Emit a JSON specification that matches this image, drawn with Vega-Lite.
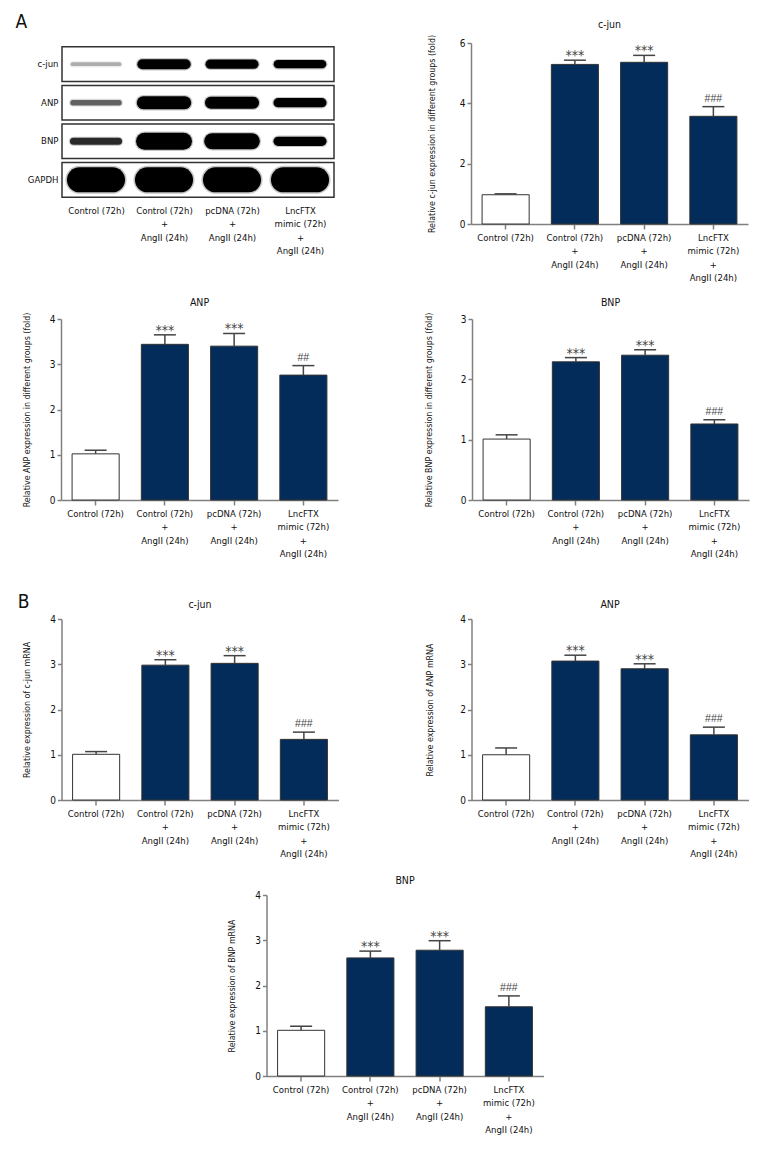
{
  "$schema": "https://vega.github.io/schema/vega-lite/v6.json",
  "background": "white",
  "padding": {"left": 15, "top": 13, "right": 5, "bottom": 5},
  "datasets": {
    "blot": [
      {"protein": "c-jun", "lane": "Control (72h)", "signal": 0.15},
      {"protein": "c-jun", "lane": "Control (72h)|+|AngII (24h)", "signal": 0.40},
      {"protein": "c-jun", "lane": "pcDNA (72h)|+|AngII (24h)", "signal": 0.37},
      {"protein": "c-jun", "lane": "LncFTX|mimic (72h)|+|AngII (24h)", "signal": 0.33},
      {"protein": "ANP", "lane": "Control (72h)", "signal": 0.22},
      {"protein": "ANP", "lane": "Control (72h)|+|AngII (24h)", "signal": 0.52},
      {"protein": "ANP", "lane": "pcDNA (72h)|+|AngII (24h)", "signal": 0.48},
      {"protein": "ANP", "lane": "LncFTX|mimic (72h)|+|AngII (24h)", "signal": 0.37},
      {"protein": "BNP", "lane": "Control (72h)", "signal": 0.28},
      {"protein": "BNP", "lane": "Control (72h)|+|AngII (24h)", "signal": 0.68},
      {"protein": "BNP", "lane": "pcDNA (72h)|+|AngII (24h)", "signal": 0.64},
      {"protein": "BNP", "lane": "LncFTX|mimic (72h)|+|AngII (24h)", "signal": 0.37},
      {"protein": "GAPDH", "lane": "Control (72h)", "signal": 1.0},
      {"protein": "GAPDH", "lane": "Control (72h)|+|AngII (24h)", "signal": 1.0},
      {"protein": "GAPDH", "lane": "pcDNA (72h)|+|AngII (24h)", "signal": 1.0},
      {"protein": "GAPDH", "lane": "LncFTX|mimic (72h)|+|AngII (24h)", "signal": 1.0}
    ],
    "bars": [
      {"panel": "A c-jun", "group": "Control (72h)", "mean": 0.97, "hi": 1.00, "sig": ""},
      {"panel": "A c-jun", "group": "Control (72h)|+|AngII (24h)", "mean": 5.29, "hi": 5.43, "sig": "***"},
      {"panel": "A c-jun", "group": "pcDNA (72h)|+|AngII (24h)", "mean": 5.36, "hi": 5.59, "sig": "***"},
      {"panel": "A c-jun", "group": "LncFTX|mimic (72h)|+|AngII (24h)", "mean": 3.57, "hi": 3.89, "sig": "###"},
      {"panel": "A ANP", "group": "Control (72h)", "mean": 1.02, "hi": 1.10, "sig": ""},
      {"panel": "A ANP", "group": "Control (72h)|+|AngII (24h)", "mean": 3.44, "hi": 3.65, "sig": "***"},
      {"panel": "A ANP", "group": "pcDNA (72h)|+|AngII (24h)", "mean": 3.40, "hi": 3.68, "sig": "***"},
      {"panel": "A ANP", "group": "LncFTX|mimic (72h)|+|AngII (24h)", "mean": 2.76, "hi": 2.97, "sig": "##"},
      {"panel": "A BNP", "group": "Control (72h)", "mean": 1.01, "hi": 1.08, "sig": ""},
      {"panel": "A BNP", "group": "Control (72h)|+|AngII (24h)", "mean": 2.29, "hi": 2.36, "sig": "***"},
      {"panel": "A BNP", "group": "pcDNA (72h)|+|AngII (24h)", "mean": 2.40, "hi": 2.49, "sig": "***"},
      {"panel": "A BNP", "group": "LncFTX|mimic (72h)|+|AngII (24h)", "mean": 1.26, "hi": 1.33, "sig": "###"},
      {"panel": "B c-jun", "group": "Control (72h)", "mean": 1.01, "hi": 1.07, "sig": ""},
      {"panel": "B c-jun", "group": "Control (72h)|+|AngII (24h)", "mean": 2.98, "hi": 3.10, "sig": "***"},
      {"panel": "B c-jun", "group": "pcDNA (72h)|+|AngII (24h)", "mean": 3.02, "hi": 3.19, "sig": "***"},
      {"panel": "B c-jun", "group": "LncFTX|mimic (72h)|+|AngII (24h)", "mean": 1.34, "hi": 1.50, "sig": "###"},
      {"panel": "B ANP", "group": "Control (72h)", "mean": 1.00, "hi": 1.15, "sig": ""},
      {"panel": "B ANP", "group": "Control (72h)|+|AngII (24h)", "mean": 3.07, "hi": 3.20, "sig": "***"},
      {"panel": "B ANP", "group": "pcDNA (72h)|+|AngII (24h)", "mean": 2.90, "hi": 3.01, "sig": "***"},
      {"panel": "B ANP", "group": "LncFTX|mimic (72h)|+|AngII (24h)", "mean": 1.44, "hi": 1.61, "sig": "###"},
      {"panel": "B BNP", "group": "Control (72h)", "mean": 1.01, "hi": 1.10, "sig": ""},
      {"panel": "B BNP", "group": "Control (72h)|+|AngII (24h)", "mean": 2.61, "hi": 2.76, "sig": "***"},
      {"panel": "B BNP", "group": "pcDNA (72h)|+|AngII (24h)", "mean": 2.78, "hi": 2.99, "sig": "***"},
      {"panel": "B BNP", "group": "LncFTX|mimic (72h)|+|AngII (24h)", "mean": 1.53, "hi": 1.77, "sig": "###"}
    ]
  },
  "config": {
    "font": "DejaVu Sans Condensed, DejaVu Sans, sans-serif",
    "view": {"stroke": null},
    "axis": {"domainColor": "#808080", "domainWidth": 1.5, "tickColor": "#808080", "tickWidth": 1.5, "tickSize": 4, "labelColor": "#111111", "labelFontSize": 10, "titleFontSize": 8.8, "titleFontWeight": "normal", "titleColor": "#111111", "grid": false, "labelPadding": 2},
    "axisX": {"labelAngle": 0, "labelLineHeight": 13.5, "labelPadding": 3, "tickSize": 5, "labelBaseline": "top", "labelFontSize": 9.5},
    "title": {"fontSize": 10.5, "fontWeight": "normal", "color": "#111111", "frame": "group", "offset": 4}
  },
  "center": true,
  "spacing": 34,
  "vconcat": [
    {
      "center": true,
      "spacing": 15,
      "vconcat": [
        {
          "bounds": "flush",
          "spacing": 137,
          "hconcat": [
            {
              "title": {"text": "A", "anchor": "start", "frame": "bounds", "fontSize": 19, "offset": 7, "dx": -8},
              "width": 272,
              "height": 158,
              "data": {"name": "blot"},
              "encoding": {
                "y": {"field": "protein", "type": "nominal", "sort": ["c-jun", "ANP", "BNP", "GAPDH"], "scale": {"paddingInner": 0.1, "paddingOuter": 0.1}, "axis": {"title": null, "domain": false, "ticks": false, "labelPadding": 4, "labelFontSize": 9.5}}
              },
              "layer": [
                {
                  "transform": [{"filter": "datum.lane === 'Control (72h)'"}],
                  "mark": {"type": "rect", "fill": "#ffffff", "stroke": "#333333", "strokeWidth": 1.5}
                },
                {
                  "mark": {"type": "point", "shape": "stroke", "filled": false, "opacity": 0.22, "strokeCap": "round"},
                  "encoding": {
                    "x": {"field": "lane", "type": "nominal", "sort": ["Control (72h)", "Control (72h)|+|AngII (24h)", "pcDNA (72h)|+|AngII (24h)", "LncFTX|mimic (72h)|+|AngII (24h)"], "scale": {"paddingInner": 0, "paddingOuter": 0}, "axis": {"title": null, "domain": false, "ticks": false, "labelPadding": 4, "labelExpr": "split(datum.label, '|')"}},
                    "color": {"field": "signal", "type": "quantitative", "scale": {"domain": [0.1, 0.32], "range": ["#e6e6e6", "#000000"], "clamp": true}, "legend": null},
                    "size": {"field": "signal", "type": "quantitative", "scale": {"domain": [0, 1], "range": [2400, 1100]}, "legend": null},
                    "strokeWidth": {"field": "signal", "type": "quantitative", "scale": {"domain": [0, 1], "range": [2, 28]}, "legend": null}
                  }
                },
                {
                  "mark": {"type": "point", "shape": "stroke", "filled": false, "opacity": 1, "strokeCap": "round"},
                  "encoding": {
                    "x": {"field": "lane", "type": "nominal", "sort": ["Control (72h)", "Control (72h)|+|AngII (24h)", "pcDNA (72h)|+|AngII (24h)", "LncFTX|mimic (72h)|+|AngII (24h)"], "scale": {"paddingInner": 0, "paddingOuter": 0}, "axis": {"title": null, "domain": false, "ticks": false, "labelPadding": 4, "labelExpr": "split(datum.label, '|')"}},
                    "color": {"field": "signal", "type": "quantitative", "scale": {"domain": [0.1, 0.32], "range": ["#e6e6e6", "#000000"], "clamp": true}, "legend": null},
                    "size": {"field": "signal", "type": "quantitative", "scale": {"domain": [0, 1], "range": [2400, 1100]}, "legend": null},
                    "strokeWidth": {"field": "signal", "type": "quantitative", "scale": {"domain": [0, 1], "range": [0, 25]}, "legend": null}
                  }
                }
              ],
              "resolve": {"scale": {"strokeWidth": "independent"}}
            },
            {
              "title": "c-jun",
              "width": 277,
              "height": 181,
              "data": {"name": "bars"},
              "transform": [{"filter": "datum.panel === 'A c-jun'"}],
              "encoding": {
                "x": {"field": "group", "type": "nominal", "sort": null, "scale": {"paddingInner": 0.32, "paddingOuter": 0.16}, "axis": {"title": null, "labelExpr": "split(datum.label, '|')"}}
              },
              "layer": [
                {"mark": {"type": "bar", "stroke": "#333333", "strokeWidth": 1}, "encoding": {"y": {"field": "mean", "type": "quantitative", "scale": {"domain": [0, 6], "nice": false}, "axis": {"values": [0, 2, 4, 6], "format": "d", "title": "Relative c-jun expression in different groups (fold)", "titlePadding": 23}}, "fill": {"field": "group", "type": "nominal", "sort": null, "scale": {"range": ["#ffffff", "#042c5a", "#042c5a", "#042c5a"]}, "legend": null}}},
                {"mark": {"type": "rule", "color": "#444444", "strokeWidth": 1.5}, "encoding": {"y": {"field": "mean", "type": "quantitative"}, "y2": {"field": "hi"}}},
                {"mark": {"type": "tick", "color": "#444444", "thickness": 1.5, "size": 22, "opacity": 1}, "encoding": {"y": {"field": "hi", "type": "quantitative"}}},
                {"transform": [{"filter": "datum.sig === '***'"}], "mark": {"type": "text", "color": "#444444", "font": "DejaVu Sans Condensed", "fontSize": 14, "baseline": "alphabetic", "dy": 0}, "encoding": {"y": {"field": "hi", "type": "quantitative"}, "text": {"field": "sig"}}},
                {"transform": [{"filter": "datum.sig !== '***'"}], "mark": {"type": "text", "color": "#444444", "font": "Liberation Sans", "fontSize": 10.5, "baseline": "alphabetic", "dy": -5}, "encoding": {"y": {"field": "hi", "type": "quantitative"}, "text": {"field": "sig"}}}
              ]
            }
          ]
        },
        {
          "bounds": "flush",
          "spacing": 134,
          "hconcat": [
            {
              "title": "ANP",
              "width": 277,
              "height": 181,
              "data": {"name": "bars"},
              "transform": [{"filter": "datum.panel === 'A ANP'"}],
              "encoding": {
                "x": {"field": "group", "type": "nominal", "sort": null, "scale": {"paddingInner": 0.32, "paddingOuter": 0.16}, "axis": {"title": null, "labelExpr": "split(datum.label, '|')"}}
              },
              "layer": [
                {"mark": {"type": "bar", "stroke": "#333333", "strokeWidth": 1}, "encoding": {"y": {"field": "mean", "type": "quantitative", "scale": {"domain": [0, 4], "nice": false}, "axis": {"values": [0, 1, 2, 3, 4], "format": "d", "title": "Relative ANP expression in different groups (fold)", "titlePadding": 18}}, "fill": {"field": "group", "type": "nominal", "sort": null, "scale": {"range": ["#ffffff", "#042c5a", "#042c5a", "#042c5a"]}, "legend": null}}},
                {"mark": {"type": "rule", "color": "#444444", "strokeWidth": 1.5}, "encoding": {"y": {"field": "mean", "type": "quantitative"}, "y2": {"field": "hi"}}},
                {"mark": {"type": "tick", "color": "#444444", "thickness": 1.5, "size": 22, "opacity": 1}, "encoding": {"y": {"field": "hi", "type": "quantitative"}}},
                {"transform": [{"filter": "datum.sig === '***'"}], "mark": {"type": "text", "color": "#444444", "font": "DejaVu Sans Condensed", "fontSize": 14, "baseline": "alphabetic", "dy": 0}, "encoding": {"y": {"field": "hi", "type": "quantitative"}, "text": {"field": "sig"}}},
                {"transform": [{"filter": "datum.sig !== '***'"}], "mark": {"type": "text", "color": "#444444", "font": "Liberation Sans", "fontSize": 10.5, "baseline": "alphabetic", "dy": -5}, "encoding": {"y": {"field": "hi", "type": "quantitative"}, "text": {"field": "sig"}}}
              ]
            },
            {
              "title": "BNP",
              "width": 277,
              "height": 181,
              "data": {"name": "bars"},
              "transform": [{"filter": "datum.panel === 'A BNP'"}],
              "encoding": {
                "x": {"field": "group", "type": "nominal", "sort": null, "scale": {"paddingInner": 0.32, "paddingOuter": 0.16}, "axis": {"title": null, "labelExpr": "split(datum.label, '|')"}}
              },
              "layer": [
                {"mark": {"type": "bar", "stroke": "#333333", "strokeWidth": 1}, "encoding": {"y": {"field": "mean", "type": "quantitative", "scale": {"domain": [0, 3], "nice": false}, "axis": {"values": [0, 1, 2, 3], "format": "d", "title": "Relative BNP expression in different groups (fold)", "titlePadding": 27}}, "fill": {"field": "group", "type": "nominal", "sort": null, "scale": {"range": ["#ffffff", "#042c5a", "#042c5a", "#042c5a"]}, "legend": null}}},
                {"mark": {"type": "rule", "color": "#444444", "strokeWidth": 1.5}, "encoding": {"y": {"field": "mean", "type": "quantitative"}, "y2": {"field": "hi"}}},
                {"mark": {"type": "tick", "color": "#444444", "thickness": 1.5, "size": 22, "opacity": 1}, "encoding": {"y": {"field": "hi", "type": "quantitative"}}},
                {"transform": [{"filter": "datum.sig === '***'"}], "mark": {"type": "text", "color": "#444444", "font": "DejaVu Sans Condensed", "fontSize": 14, "baseline": "alphabetic", "dy": 0}, "encoding": {"y": {"field": "hi", "type": "quantitative"}, "text": {"field": "sig"}}},
                {"transform": [{"filter": "datum.sig !== '***'"}], "mark": {"type": "text", "color": "#444444", "font": "Liberation Sans", "fontSize": 10.5, "baseline": "alphabetic", "dy": -5}, "encoding": {"y": {"field": "hi", "type": "quantitative"}, "text": {"field": "sig"}}}
              ]
            }
          ]
        }
      ]
    },
    {
      "center": true,
      "spacing": 17,
      "vconcat": [
        {
          "title": {"text": "B", "anchor": "start", "frame": "bounds", "fontSize": 19, "offset": -12, "dx": -5},
          "bounds": "flush",
          "spacing": 133,
          "hconcat": [
            {
              "title": "c-jun",
              "width": 277,
              "height": 181,
              "data": {"name": "bars"},
              "transform": [{"filter": "datum.panel === 'B c-jun'"}],
              "encoding": {
                "x": {"field": "group", "type": "nominal", "sort": null, "scale": {"paddingInner": 0.32, "paddingOuter": 0.16}, "axis": {"title": null, "labelExpr": "split(datum.label, '|')"}}
              },
              "layer": [
                {"mark": {"type": "bar", "stroke": "#333333", "strokeWidth": 1}, "encoding": {"y": {"field": "mean", "type": "quantitative", "scale": {"domain": [0, 4], "nice": false}, "axis": {"values": [0, 1, 2, 3, 4], "format": "d", "title": "Relative expression of c-jun mRNA", "titlePadding": 18}}, "fill": {"field": "group", "type": "nominal", "sort": null, "scale": {"range": ["#ffffff", "#042c5a", "#042c5a", "#042c5a"]}, "legend": null}}},
                {"mark": {"type": "rule", "color": "#444444", "strokeWidth": 1.5}, "encoding": {"y": {"field": "mean", "type": "quantitative"}, "y2": {"field": "hi"}}},
                {"mark": {"type": "tick", "color": "#444444", "thickness": 1.5, "size": 22, "opacity": 1}, "encoding": {"y": {"field": "hi", "type": "quantitative"}}},
                {"transform": [{"filter": "datum.sig === '***'"}], "mark": {"type": "text", "color": "#444444", "font": "DejaVu Sans Condensed", "fontSize": 14, "baseline": "alphabetic", "dy": 0}, "encoding": {"y": {"field": "hi", "type": "quantitative"}, "text": {"field": "sig"}}},
                {"transform": [{"filter": "datum.sig !== '***'"}], "mark": {"type": "text", "color": "#444444", "font": "Liberation Sans", "fontSize": 10.5, "baseline": "alphabetic", "dy": -5}, "encoding": {"y": {"field": "hi", "type": "quantitative"}, "text": {"field": "sig"}}}
              ]
            },
            {
              "title": "ANP",
              "width": 277,
              "height": 181,
              "data": {"name": "bars"},
              "transform": [{"filter": "datum.panel === 'B ANP'"}],
              "encoding": {
                "x": {"field": "group", "type": "nominal", "sort": null, "scale": {"paddingInner": 0.32, "paddingOuter": 0.16}, "axis": {"title": null, "labelExpr": "split(datum.label, '|')"}}
              },
              "layer": [
                {"mark": {"type": "bar", "stroke": "#333333", "strokeWidth": 1}, "encoding": {"y": {"field": "mean", "type": "quantitative", "scale": {"domain": [0, 4], "nice": false}, "axis": {"values": [0, 1, 2, 3, 4], "format": "d", "title": "Relative expression of ANP mRNA", "titlePadding": 25}}, "fill": {"field": "group", "type": "nominal", "sort": null, "scale": {"range": ["#ffffff", "#042c5a", "#042c5a", "#042c5a"]}, "legend": null}}},
                {"mark": {"type": "rule", "color": "#444444", "strokeWidth": 1.5}, "encoding": {"y": {"field": "mean", "type": "quantitative"}, "y2": {"field": "hi"}}},
                {"mark": {"type": "tick", "color": "#444444", "thickness": 1.5, "size": 22, "opacity": 1}, "encoding": {"y": {"field": "hi", "type": "quantitative"}}},
                {"transform": [{"filter": "datum.sig === '***'"}], "mark": {"type": "text", "color": "#444444", "font": "DejaVu Sans Condensed", "fontSize": 14, "baseline": "alphabetic", "dy": 0}, "encoding": {"y": {"field": "hi", "type": "quantitative"}, "text": {"field": "sig"}}},
                {"transform": [{"filter": "datum.sig !== '***'"}], "mark": {"type": "text", "color": "#444444", "font": "Liberation Sans", "fontSize": 10.5, "baseline": "alphabetic", "dy": -5}, "encoding": {"y": {"field": "hi", "type": "quantitative"}, "text": {"field": "sig"}}}
              ]
            }
          ]
        },
        {
          "title": "BNP",
          "width": 277,
          "height": 181,
          "data": {"name": "bars"},
          "transform": [{"filter": "datum.panel === 'B BNP'"}],
          "encoding": {
            "x": {"field": "group", "type": "nominal", "sort": null, "scale": {"paddingInner": 0.32, "paddingOuter": 0.16}, "axis": {"title": null, "labelExpr": "split(datum.label, '|')"}}
          },
          "layer": [
            {"mark": {"type": "bar", "stroke": "#333333", "strokeWidth": 1}, "encoding": {"y": {"field": "mean", "type": "quantitative", "scale": {"domain": [0, 4], "nice": false}, "axis": {"values": [0, 1, 2, 3, 4], "format": "d", "title": "Relative expression of BNP mRNA", "titlePadding": 18}}, "fill": {"field": "group", "type": "nominal", "sort": null, "scale": {"range": ["#ffffff", "#042c5a", "#042c5a", "#042c5a"]}, "legend": null}}},
            {"mark": {"type": "rule", "color": "#444444", "strokeWidth": 1.5}, "encoding": {"y": {"field": "mean", "type": "quantitative"}, "y2": {"field": "hi"}}},
            {"mark": {"type": "tick", "color": "#444444", "thickness": 1.5, "size": 22, "opacity": 1}, "encoding": {"y": {"field": "hi", "type": "quantitative"}}},
            {"transform": [{"filter": "datum.sig === '***'"}], "mark": {"type": "text", "color": "#444444", "font": "DejaVu Sans Condensed", "fontSize": 14, "baseline": "alphabetic", "dy": 0}, "encoding": {"y": {"field": "hi", "type": "quantitative"}, "text": {"field": "sig"}}},
            {"transform": [{"filter": "datum.sig !== '***'"}], "mark": {"type": "text", "color": "#444444", "font": "Liberation Sans", "fontSize": 10.5, "baseline": "alphabetic", "dy": -5}, "encoding": {"y": {"field": "hi", "type": "quantitative"}, "text": {"field": "sig"}}}
          ]
        }
      ]
    }
  ]
}
